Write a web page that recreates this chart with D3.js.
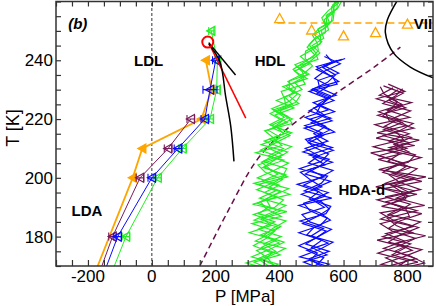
<!DOCTYPE html>
<html><head><meta charset="utf-8">
<script src="https://cdn.jsdelivr.net/npm/d3@7"></script>
<style>body{margin:0;background:#fff} svg{display:block;font-family:"Liberation Sans",Arial,sans-serif}</style>
</head><body><svg id="c" width="436" height="306"></svg>
<script>
// ---------- data ----------
const xDomain = [-300, 880];
const yDomain = [170, 260];
const xTickValues = [-200, 0, 200, 400, 600, 800];
const xTickLabels = ["-200", "0", "200", "400", "600", "800"];
const yTickValues = [180, 200, 220, 240];
const yTickLabels = ["180", "200", "220", "240"];

// marker series (T in K, P in MPa)
const orangeT = [160, 200, 210, 220, 230, 240];
const orangeP = [-206, -60, -30, 155, 187, 169];
const maroonT = [160, 180, 200, 210, 220];
const maroonP = [-190, -123, -37, 51, 122];
const maroonErr = [12, 12, 12, 12, 12];
const blueT = [160, 180, 200, 210, 220, 230, 240];
const blueP = [-176, -107, 0, 82, 166, 182, 200];
const blueErr = [12, 12, 12, 12, 12, 22, 10];
const greenT = [160, 180, 200, 210, 220, 230, 240, 250];
const greenP = [-154, -81, 18, 96, 182, 203, 205, 186];
const greenErr = [12, 12, 12, 12, 10, 10, 8, 8];

// noisy trajectory bands: temperature grids + pressure traces
const greenBandT = d3.range(167.5, 263, 2.5);
const greenBand = [
 [313,365,332,388,349,405,333,385,318,385,412,353,399,330,382,428,365,412,352,413,389,440,390,440,415,470,446,487,463,500,526,502,538,530,557,548,580,580,603],
 [373,320,402,343,389,305,373,345,403,330,377,428,344,395,352,388,425,342,402,363,424,385,445,390,445,420,486,447,493,465,506,532,508,547,539,570,566,593,593],
 [343,395,312,368,414,340,398,320,373,420,337,388,319,410,422,348,390,437,367,428,369,415,380,450,465,430,431,477,503,480,481,527,528,520,562,565,562,589,589],
 [403,350,377,318,359,385,313,405,358,340,432,368,409,355,332,403,340,387,432,378,409,370,420,415,405,480,466,442,478,510,486,507,543,543,532,552,584,579,602],
 [298,380,362,328,399,350,378,420,333,370,357,403,334,425,372,343,410,362,387,438,374,425,400,460,430,450,426,492,453,520,511,492,513,553,547,546,582,595,591],
 [383,295,372,418,324,370,403,340,423,315,392,328,384,420,347,413,325,407,382,353,439,425,375,430,455,410,476,472,448,505,521,517,503,525,567,570,570,575,605]
];
const blueBandT = d3.range(167.5, 241, 2.5);
const blueBand = [
 [470,530,493,555,482,520,562,494,470,540,503,552,475,525,567,490,523,480,551,507,544,495,572,520,557,500,550,575,535,580],
 [535,475,548,500,532,460,527,549,495,475,543,507,560,480,522,555,473,540,511,557,499,540,507,570,517,555,510,540,590,540],
 [500,555,463,525,567,485,507,559,525,460,563,477,530,550,462,530,553,505,481,572,529,480,552,505,577,525,520,585,540,605],
 [560,495,518,460,512,545,472,519,555,530,468,532,495,465,542,505,568,490,536,477,564,515,527,550,492,580,565,515,565,545],
 [455,515,538,485,552,500,537,464,545,560,493,522,455,540,492,565,493,565,491,532,479,560,492,535,562,505,585,550,515,595]
];
const maroonBandT = d3.range(165, 231, 2.5);
const maroonBand = [
 [715,795,743,827,760,810,722,790,841,740,784,705,806,760,823,730,788,710,798,742,805,728,772,710,783,737,770],
 [810,730,833,752,795,705,817,765,736,830,749,805,726,845,758,795,708,805,758,812,725,783,707,795,743,787,725],
 [755,840,718,787,845,740,777,835,756,715,854,765,821,730,793,830,738,775,693,787,765,698,807,735,813,712,755],
 [845,765,798,707,775,825,752,715,806,795,734,830,701,800,723,765,843,740,808,722,820,743,732,780,703,792,740],
 [695,815,783,732,815,765,857,740,776,845,719,795,781,745,858,710,803,825,743,837,705,798,757,810,723,762,785],
 [785,750,853,807,725,790,732,820,716,770,809,730,841,775,743,810,758,685,823,702,775,818,722,750,768,727,715]
];
const traceShiftT = [0, 1.3, 0.6, 1.9, 0.3, 1.0];

// curves
const dashedMaroonP = [150, 235, 325, 400, 500, 600, 700, 778];
const dashedMaroonT = [170, 188, 205.5, 214.5, 223, 230.5, 238, 244.5];
const orangeLineP = [393, 880];
const orangeLineT = [252.7, 252.7];
const iceVIItriP = [400, 500, 600, 700, 800];
const iceVIItriT = [254.2, 250.3, 248.3, 249.4, 252.3];
const viiBoundaryP = [772, 737, 731, 756, 809, 881];
const viiBoundaryT = [261, 253.7, 249.3, 242.5, 237.7, 234];
const blackStraightP = [178, 262];
const blackStraightT = [246, 235];
const redLineP = [180, 294];
const redLineT = [245.5, 220.3];
const blackCurveP = [178, 213, 231, 247, 257];
const blackCurveT = [245.5, 239.5, 227.7, 217.5, 205.6];
const criticalP = [175];
const criticalT = [246.2];

// labels
const annotations = [
 {t: "(b)", p: -262, T: 250.5, italic: true, anchor: "start"},
 {t: "LDL", p: -10, T: 238, anchor: "middle"},
 {t: "HDL", p: 370, T: 238, anchor: "middle"},
 {t: "VII", p: 820, T: 250.8, anchor: "start"},
 {t: "HDA-d", p: 657, T: 194.3, anchor: "middle"},
 {t: "LDA", p: -203, T: 187, anchor: "middle"}
];

// ---------- drawing ----------
const W = 436, H = 306;
const m = {l: 56, r: 3, t: 1.5, b: 40};
const svg = d3.select("#c");
const x = d3.scaleLinear().domain(xDomain).range([m.l, W - m.r]);
const y = d3.scaleLinear().domain(yDomain).range([H - m.b, m.t]);

svg.append("clipPath").attr("id", "clip").append("rect")
  .attr("x", m.l).attr("y", m.t).attr("width", W - m.r - m.l).attr("height", H - m.b - m.t);
const g = svg.append("g").attr("clip-path", "url(#clip)");

const line = d3.line().x(d => x(d[0])).y(d => y(d[1]));
const smooth = d3.line().x(d => x(d[0])).y(d => y(d[1])).curve(d3.curveCatmullRom);
const zip = (P, T) => P.map((p, i) => [p, T[i]]);

// vertical dashed line at P=0
g.append("path").attr("d", line([[0, yDomain[0]], [0, yDomain[1]]]))
  .attr("stroke", "#333").attr("stroke-width", 1).attr("stroke-dasharray", "3,2").attr("fill", "none");

// dashed maroon curve
g.append("path").attr("d", smooth(zip(dashedMaroonP, dashedMaroonT)))
  .attr("stroke", "#6a0f4a").attr("stroke-width", 1.5).attr("stroke-dasharray", "6,4").attr("fill", "none");

// orange dashed line
g.append("path").attr("d", line(zip(orangeLineP, orangeLineT)))
  .attr("stroke", "#ffa500").attr("stroke-width", 1.5).attr("stroke-dasharray", "7,4").attr("fill", "none");

// bands
function band(traces, T, color) {
  traces.forEach((tr, k) => {
    g.append("path").attr("d", line(tr.map((p, i) => [p, T[i] + traceShiftT[k]])))
      .attr("stroke", color).attr("stroke-width", 1.2).attr("fill", "none");
  });
}
band(greenBand, greenBandT, "#22ee22");
band(blueBand, blueBandT, "#0a0aff");
band(maroonBand, maroonBandT, "#6a0f4a");

// orange open triangles (ice VII points)
const tri = h => `M0,${-h}L${h},${h * 0.8}L${-h},${h * 0.8}Z`;
g.selectAll(".ut").data(zip(iceVIItriP, iceVIItriT)).join("path")
  .attr("d", tri(5)).attr("transform", d => `translate(${x(d[0])},${y(d[1])})`)
  .attr("fill", "none").attr("stroke", "#ffa500").attr("stroke-width", 1.3);

// VII boundary
g.append("path").attr("d", smooth(zip(viiBoundaryP, viiBoundaryT)))
  .attr("stroke", "#000").attr("stroke-width", 1.5).attr("fill", "none");

// marker series
const leftTri = h => `M${-h},0L${h * 0.8},${-h}L${h * 0.8},${h}Z`;
function series(P, T, err, color, filled, lw) {
  const pts = zip(P, T);
  g.append("path").attr("d", line(pts)).attr("stroke", color).attr("stroke-width", lw).attr("fill", "none");
  if (err) {
    pts.forEach((d, i) => {
      const x0 = x(d[0] - err[i]), x1 = x(d[0] + err[i]), yy = y(d[1]);
      const e = g.append("g").attr("stroke", color).attr("stroke-width", 1.1);
      e.append("line").attr("x1", x0).attr("x2", x1).attr("y1", yy).attr("y2", yy);
      e.append("line").attr("x1", x0).attr("x2", x0).attr("y1", yy - 4).attr("y2", yy + 4);
      e.append("line").attr("x1", x1).attr("x2", x1).attr("y1", yy - 4).attr("y2", yy + 4);
    });
  }
  g.append("g").selectAll("path").data(pts).join("path")
    .attr("d", leftTri(4.5)).attr("transform", d => `translate(${x(d[0])},${y(d[1])})`)
    .attr("fill", filled ? color : "none").attr("stroke", color).attr("stroke-width", 1.2);
}
series(orangeP, orangeT, null, "#ffa500", true, 1.8);
series(maroonP, maroonT, maroonErr, "#7a1a5a", false, 1);
series(greenP, greenT, greenErr, "#22ee22", false, 1);
series(blueP, blueT, blueErr, "#0a0aff", false, 1);

// lines from the critical point
g.append("path").attr("d", line(zip(blackStraightP, blackStraightT)))
  .attr("stroke", "#000").attr("stroke-width", 1.5).attr("fill", "none");
g.append("path").attr("d", line(zip(redLineP, redLineT)))
  .attr("stroke", "#ff0000").attr("stroke-width", 1.5).attr("fill", "none");
g.append("path").attr("d", smooth(zip(blackCurveP, blackCurveT)))
  .attr("stroke", "#000").attr("stroke-width", 1.5).attr("fill", "none");
g.selectAll(".cp").data(zip(criticalP, criticalT)).join("circle")
  .attr("cx", d => x(d[0])).attr("cy", d => y(d[1])).attr("r", 5.5)
  .attr("fill", "none").attr("stroke", "#ff0000").attr("stroke-width", 2);

// annotations
svg.selectAll(".ann").data(annotations).join("text")
  .attr("x", d => x(d.p)).attr("y", d => y(d.T))
  .attr("text-anchor", d => d.anchor)
  .attr("font-weight", "bold").attr("font-style", d => d.italic ? "italic" : "normal")
  .attr("font-size", 15).attr("fill", "#000").text(d => d.t);

// axes (ticks inside)
const axisColor = "#333";
const ax = svg.append("g");
const axB = d3.axisBottom(x).tickValues(d3.range(-300, 881, 50)).tickSize(-6).tickFormat("");
const axT = d3.axisTop(x).tickValues(d3.range(-300, 881, 50)).tickSize(-5).tickFormat("");
const axL = d3.axisLeft(y).tickValues(d3.range(170, 261, 5)).tickSize(-5).tickFormat("");
const axR = d3.axisRight(y).tickValues(d3.range(170, 261, 5)).tickSize(-5).tickFormat("");
ax.append("g").attr("transform", `translate(0,${H - m.b})`).call(axB);
ax.append("g").attr("transform", `translate(0,${m.t})`).call(axT);
ax.append("g").attr("transform", `translate(${m.l},0)`).call(axL);
ax.append("g").attr("transform", `translate(${W - m.r},0)`).call(axR);
ax.selectAll(".domain").remove();
ax.selectAll("line").attr("stroke", axisColor).attr("stroke-width", 1.2);
ax.append("rect").attr("x", m.l).attr("y", m.t).attr("width", W - m.r - m.l).attr("height", H - m.b - m.t)
  .attr("fill", "none").attr("stroke", axisColor).attr("stroke-width", 1.5);

// tick labels
svg.selectAll(".xl").data(xTickValues).join("text")
  .attr("x", d => x(d)).attr("y", H - m.b + 16).attr("text-anchor", "middle")
  .attr("font-size", 17).text((d, i) => xTickLabels[i]);
svg.selectAll(".yl").data(yTickValues).join("text")
  .attr("x", m.l - 3).attr("y", d => y(d) + 6.2).attr("text-anchor", "end")
  .attr("font-size", 17).text((d, i) => yTickLabels[i]);

// axis titles
svg.append("text").attr("x", 245).attr("y", 302).attr("text-anchor", "middle").attr("font-size", 17).text("P [MPa]");
svg.append("text").attr("transform", "translate(19,128) rotate(-90)").attr("text-anchor", "middle").attr("font-size", 18).text("T [K]");
</script></body></html>
